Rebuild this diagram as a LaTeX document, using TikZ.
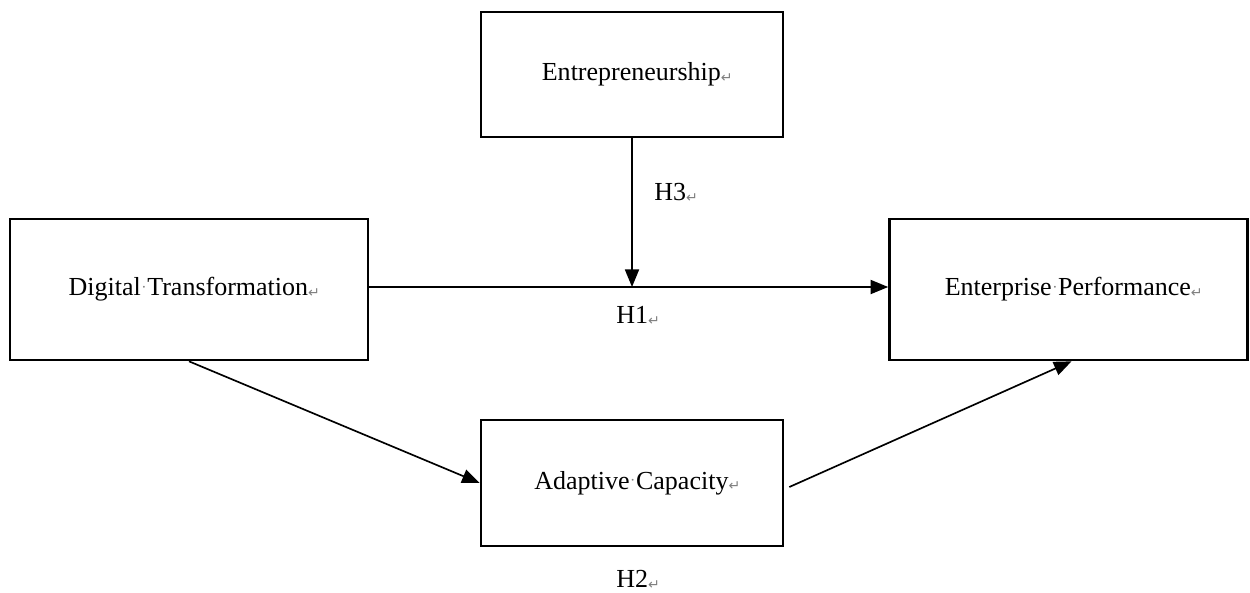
\documentclass[tikz,border=0pt]{standalone}
\usepackage{fontspec}
\setmainfont{Liberation Serif}
\newfontfamily\dvsans{DejaVu Sans}
\usetikzlibrary{arrows.meta}
\newcommand{\pmk}{{\color{gray}\dvsans\fontsize{8}{8}\selectfont\raisebox{-0.2ex}{↵}}}
\newcommand{\sdot}{\makebox[0.25em]{\color{gray}\fontsize{9}{9}\selectfont\raisebox{0.5ex}{·}}}
\newcommand{\lowr}[1]{\raisebox{-2.5pt}{#1}}
\begin{document}
\begin{tikzpicture}[x=0.02cm,y=-0.02cm,
  box/.style={draw, line width=1.5pt, inner sep=0pt, font=\fontsize{14.8}{17}\selectfont},
  lbl/.style={inner sep=0pt, anchor=west, font=\fontsize{14.8}{17}\selectfont},
  arr/.style={line width=0.95pt, -{Triangle[length=10pt,width=8pt]}}]
\useasboundingbox (0,0) rectangle (1250,592);
\node[box, minimum width=302*0.02cm, minimum height=125*0.02cm] (E) at (632,74.5) {\lowr{\hspace{6pt}Entrepreneurship\pmk}};
\node[box, minimum width=358*0.02cm, minimum height=141*0.02cm] (DT) at (189,289.5) {\lowr{\hspace{6pt}Digital\sdot Transformation\pmk}};
\node[box, minimum width=358*0.02cm, minimum height=141*0.02cm] (EP) at (1068.5,289.5) {\lowr{\hspace{6pt}Enterprise\sdot Performance\pmk}};
\node[box, minimum width=302*0.02cm, minimum height=126*0.02cm] (AC) at (632,483) {\lowr{\hspace{6pt}Adaptive\sdot Capacity\pmk}};
\coordinate (a) at ([yshift=2.5*0.02cm]DT.east);
\coordinate (b) at ([yshift=2.5*0.02cm]EP.west);
\coordinate (m) at (E.south |- a);
\draw[arr] (a) -- (b);
\draw[arr] (E.south) -- (m);
\draw[arr] (DT.south) -- (AC.west);
\draw[arr] ([xshift=5*0.02cm,yshift=-4*0.02cm]AC.east) -- ([xshift=3*0.02cm]EP.south);
\node[lbl] (h3) at (654,193) {H3\pmk};
\node[lbl] (h1) at (616,316) {H1\pmk};
\node[lbl] (h2) at (616,580) {H2\pmk};
\end{tikzpicture}
\end{document}
